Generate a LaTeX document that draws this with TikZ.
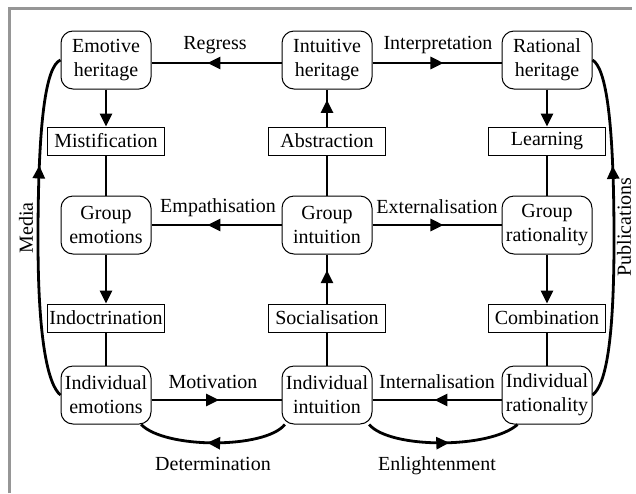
\documentclass[tikz,border=0pt]{standalone}
\usepackage{fontspec}
\setmainfont{Liberation Serif}
\usetikzlibrary{arrows.meta,decorations.markings}
\definecolor{framegray}{RGB}{150,150,150}
\tikzset{
  every node/.style={font=\fontsize{20}{24}\selectfont},
  stage/.style={draw,rounded corners=12pt,line width=1pt,minimum width=90pt,minimum height=58pt,inner sep=1pt,align=center},
  process/.style={draw,line width=1pt,minimum width=117pt,minimum height=28pt,inner sep=1pt},
  conn/.style={line width=2.8pt},
  endarrow/.style={-{Triangle[length=13pt,width=12pt]}},
  midarrow/.style={postaction={decorate},decoration={markings,mark=at position #1 with {\arrow{Triangle[length=13pt,width=12pt]}}}}
}

\begin{document}
\begin{tikzpicture}[x=1pt,y=1pt]
    \useasboundingbox (0,0) rectangle (636,-493);
    \draw[framegray,line width=3pt] (9,-493) -- (9,-8.5) -- (632,-8.5);

    % heritage, group and individual levels
    \node[stage] (EH) at (106,-60) {Emotive\\heritage};
    \node[stage] (IH) at (327,-60) {Intuitive\\heritage};
    \node[stage] (RH) at (547,-60) {Rational\\heritage};
    \node[stage] (GE) at (106,-225) {Group\\emotions};
    \node[stage] (GI) at (327,-225) {Group\\intuition};
    \node[stage] (GR) at (547,-225) {Group\\rationality};
    \node[stage] (IE) at (106,-395) {Individual\\emotions};
    \node[stage] (II) at (327,-395) {Individual\\intuition};
    \node[stage] (IR) at (547,-395) {Individual\\rationality};

    \node[process] (mist) at (106,-141) {Mistification};
    \node[process] (abst) at (327,-141) {Abstraction};
    \node[process] (learn) at (547,-141) {Learning};
    \node[process] (indoc) at (106,-318) {Indoctrination};
    \node[process] (social) at (327,-318) {Socialisation};
    \node[process] (comb) at (547,-318) {Combination};

    \node (lregress) at (215,-45) {Regress};
    \node (linterp) at (438,-45) {Interpretation};
    \node (lempath) at (218,-208) {Empathisation};
    \node (lextern) at (437,-207) {Externalisation};
    \node (lmotiv) at (213,-382) {Motivation};
    \node (lintern) at (437,-382) {Internalisation};
    \node (ldeterm) at (213,-464) {Determination};
    \node (lenlight) at (437,-466) {Enlightenment};
    \node[rotate=90] (lmedia) at (26,-228) {Media};
    \node[rotate=90] (lpubl) at (624,-227) {Publications};

    \draw[conn,midarrow=0.57] ([yshift=-3pt]IH.west) -- ([yshift=-3pt]EH.east);
    \draw[conn,midarrow=0.55] ([yshift=-3pt]IH.east) -- ([yshift=-3pt]RH.west);
    \draw[conn,midarrow=0.57] (GI) -- (GE);
    \draw[conn,midarrow=0.55] (GI) -- (GR);
    \draw[conn,midarrow=0.52] ([yshift=-5pt]IE.east) -- ([yshift=-5pt]II.west);
    \draw[conn,midarrow=0.52] ([yshift=-5pt]IR.west) -- ([yshift=-5pt]II.east);

    \draw[conn,endarrow] (EH) -- (mist);
    \draw[conn] (mist) -- (GE);
    \draw[conn,endarrow] (GE) -- (indoc);
    \draw[conn] (indoc) -- (IE);
    \draw[conn] (GI) -- (abst);
    \draw[conn,midarrow=0.72] (abst) -- (IH);
    \draw[conn] (II) -- (social);
    \draw[conn,midarrow=0.68] (social) -- (GI);
    \draw[conn,endarrow] (RH) -- (learn);
    \draw[conn] (learn) -- (GR);
    \draw[conn,endarrow] (GR) -- (comb);
    \draw[conn] (comb) -- (IR);

    \draw[conn,midarrow=0.54] (II.-145) .. controls (265,-449) and (165,-449) .. (IE.-40);
    \draw[conn,midarrow=0.54] (II.-35) .. controls (390,-449) and (490,-449) .. (IR.-135);
    \draw[conn,midarrow=0.68] (IE.west) .. controls (48,-385) and (38,-340) .. (38,-240)
        .. controls (38,-120) and (46,-66) .. (EH.west);
    \draw[conn,midarrow=0.68] (IR.east) .. controls (606,-385) and (614,-340) .. (614,-240)
        .. controls (614,-120) and (606,-68) .. (RH.east);
\end{tikzpicture}
\end{document}
